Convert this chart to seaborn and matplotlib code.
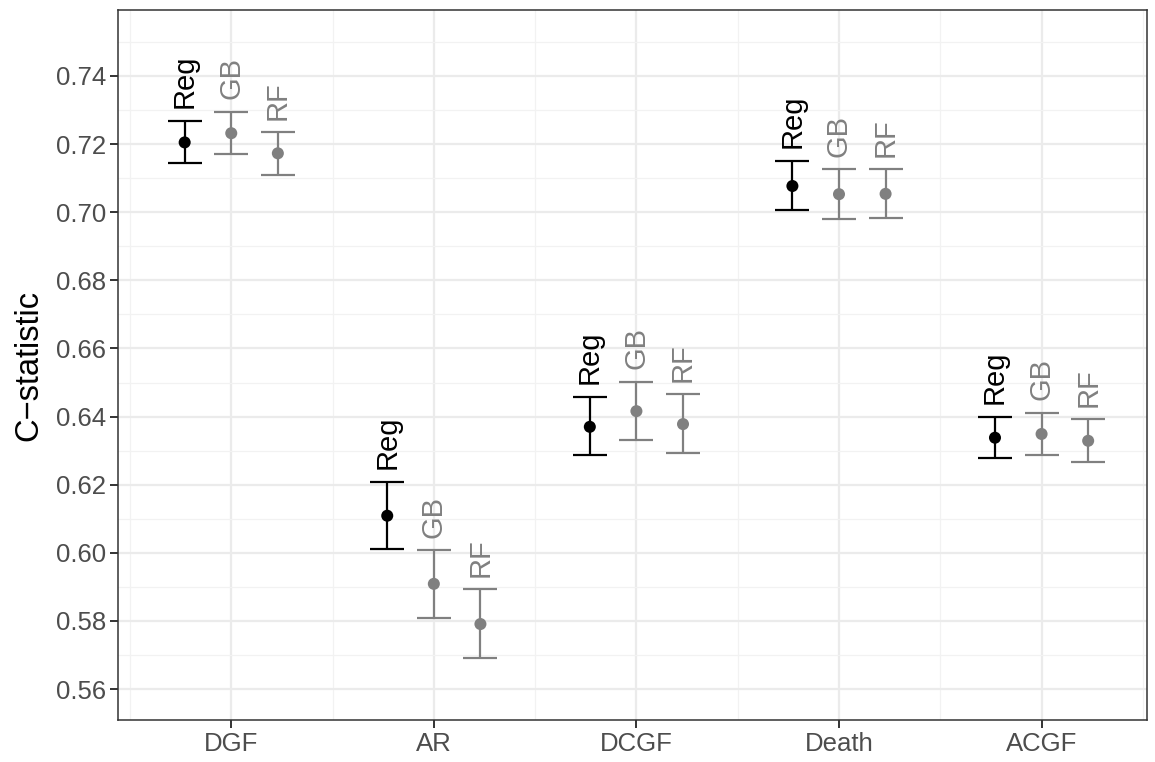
import numpy as np
import pandas as pd
import matplotlib
matplotlib.use("Agg")
import matplotlib.pyplot as plt
from matplotlib.ticker import MultipleLocator, FormatStrFormatter
import seaborn as sns

# values
outcomes = ['DGF', 'AR', 'DCGF', 'Death', 'ACGF']
models = ['Reg', 'GB', 'RF']

reg_mid = [0.7205, 0.6109, 0.6370, 0.7077, 0.6338]
reg_low = [0.7144, 0.6011, 0.6287, 0.7007, 0.6279]
reg_high = [0.7268, 0.6209, 0.6458, 0.7151, 0.6400]

gb_mid = [0.7232, 0.5909, 0.6416, 0.7053, 0.6349]
gb_low = [0.7171, 0.5808, 0.6331, 0.6980, 0.6287]
gb_high = [0.7295, 0.6008, 0.6502, 0.7126, 0.6411]

rf_mid = [0.7173, 0.5791, 0.6378, 0.7054, 0.6329]
rf_low = [0.7110, 0.5692, 0.6292, 0.6983, 0.6268]
rf_high = [0.7235, 0.5893, 0.6466, 0.7126, 0.6392]

colors = {'Reg': 'black', 'GB': '#808080', 'RF': '#808080'}
offsets = {'Reg': -0.23, 'GB': 0.0, 'RF': 0.23}

# long table for plotting
rows = []
for m, mids, lows, highs in [('Reg', reg_mid, reg_low, reg_high),
                             ('GB', gb_mid, gb_low, gb_high),
                             ('RF', rf_mid, rf_low, rf_high)]:
    for i, o in enumerate(outcomes):
        rows.append({'outcome': o, 'model': m, 'pos': i + offsets[m],
                     'mid': mids[i], 'low': lows[i], 'high': highs[i]})
df = pd.DataFrame(rows)

sns.set_theme(style='white')
plt.rcParams['font.family'] = ['Liberation Sans', 'DejaVu Sans']

fig, ax = plt.subplots(figsize=(11.55, 7.62), dpi=100)
fig.subplots_adjust(left=0.102, right=0.993, top=0.987, bottom=0.055)

# error bars
for m in models:
    sub = df[df['model'] == m]
    ax.errorbar(sub['pos'], sub['mid'],
                yerr=[sub['mid'] - sub['low'], sub['high'] - sub['mid']],
                fmt='none', ecolor=colors[m], elinewidth=1.6,
                capsize=12, capthick=1.6, zorder=3)

# points
sns.scatterplot(data=df, x='pos', y='mid', hue='model', palette=colors,
                s=75, edgecolor='none', legend=False, ax=ax, zorder=4)

# model labels above the bars
for _, r in df.iterrows():
    ax.annotate(r['model'], xy=(r['pos'], r['high']), xytext=(0, 9),
                textcoords='offset points', rotation=90,
                ha='center', va='bottom', fontsize=21,
                color=colors[r['model']])

ax.set_xlim(-0.56, 4.52)
ax.set_ylim(0.5509, 0.7594)
ax.set_xticks(range(len(outcomes)))
ax.set_xticklabels(outcomes)
ax.set_xticks(np.arange(-0.5, 4.6, 1.0), minor=True)
ax.yaxis.set_major_locator(MultipleLocator(0.02))
ax.yaxis.set_minor_locator(MultipleLocator(0.01))
ax.yaxis.set_major_formatter(FormatStrFormatter('%.2f'))

ax.grid(True, which='major', color='#EBEBEB', linewidth=1.6, zorder=0)
ax.grid(True, which='minor', color='#F2F2F2', linewidth=0.9, zorder=0)
ax.set_axisbelow(True)

for sp in ax.spines.values():
    sp.set_color('#333333')
    sp.set_linewidth(1.1)

ax.tick_params(axis='both', which='major', length=5.5, width=1.4,
               color='#333333', labelcolor='#4D4D4D', labelsize=18.5,
               direction='out', left=True, bottom=True, pad=3)
ax.tick_params(axis='both', which='minor', length=0)

ax.set_xlabel('')
ax.set_ylabel('C\u2212statistic', fontsize=23.5, color='black', labelpad=8)

fig.savefig('out.png', dpi=100)
